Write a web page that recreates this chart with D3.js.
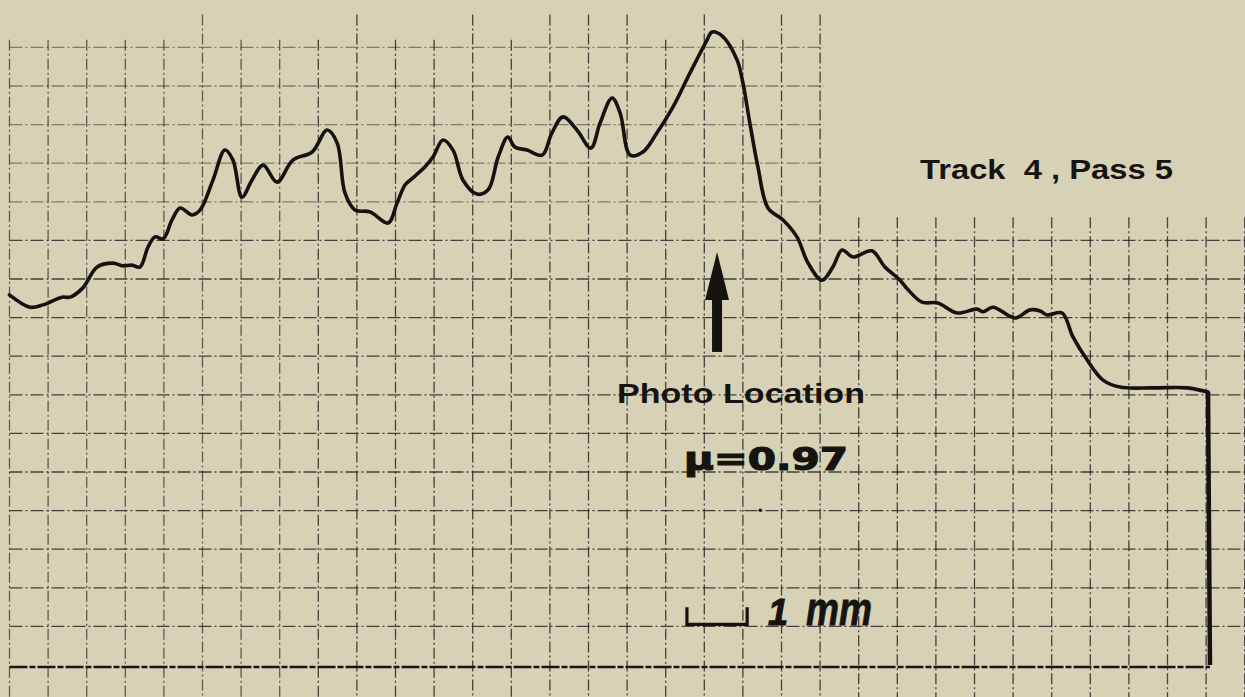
<!DOCTYPE html>
<html><head><meta charset="utf-8">
<script src="https://cdn.jsdelivr.net/npm/d3@7"></script>
<style>
html,body{margin:0;padding:0;background:#d7d2b6;}
svg{display:block;}
text{font-family:"Liberation Sans","Arial",sans-serif;font-weight:bold;fill:#161410;}
</style></head>
<body>
<svg id="chart" width="1245" height="697"></svg>
<script>
// Profile trace, in chart-grid units (x: divisions along track, y: divisions above baseline)
const traceX = [0.00,0.53,0.87,1.36,1.57,1.90,2.27,2.68,2.94,3.17,3.38,3.59,3.77,3.98,4.21,4.42,4.73,4.94,5.27,5.58,5.79,6.02,6.28,6.57,6.93,7.34,7.84,8.23,8.49,8.69,8.95,9.34,9.81,10.04,10.25,10.38,10.76,10.97,11.23,11.49,11.75,12.11,12.40,12.66,12.91,13.09,13.41,13.80,14.05,14.34,14.70,15.06,15.30,15.61,15.82,16.08,16.41,16.77,17.19,17.63,18.07,18.20,18.46,18.85,19.00,19.18,19.39,19.65,20.04,20.40,20.69,21.05,21.33,21.57,21.85,22.34,22.68,23.07,23.28,23.64,24.05,24.55,25.06,25.22,25.48,26.05,26.44,26.70,26.88,27.27,27.55,27.92,28.33,28.77,29.63,30.51,31.05];
const traceY = [9.59,9.27,9.33,9.53,9.53,9.77,10.31,10.41,10.34,10.36,10.31,10.83,11.09,11.04,11.53,11.84,11.66,11.79,12.56,13.34,13.08,12.12,12.56,12.95,12.51,13.08,13.29,13.86,13.52,12.23,11.79,11.74,11.45,11.97,12.44,12.56,12.90,13.16,13.60,13.34,12.56,12.20,12.31,13.16,13.68,13.42,13.34,13.21,13.78,14.20,13.86,13.39,14.04,14.69,14.30,13.21,13.29,13.78,14.46,15.34,16.19,16.40,16.30,15.67,15.08,14.04,12.90,11.84,11.53,11.09,10.41,9.97,10.31,10.75,10.57,10.73,10.31,9.97,9.72,9.40,9.38,9.12,9.22,9.15,9.27,8.99,9.20,9.17,9.07,9.12,8.50,7.90,7.38,7.20,7.18,7.18,7.07];
const dropX = [31.05, 31.10];   // pen drop to baseline
const dropY = [7.07, 0.00];
const gridCols = d3.range(0, 33);
const gridRows = d3.range(1, 17);
const tallCols = [5, 9, 12, 14, 15, 16, 18, 20, 21];
const titleText = "Track  4 , Pass 5";
const photoText = "Photo Location";
const muText = "\u03BC=0.97";
const scaleNum = "1";
const scaleUnit = "mm";
const arrowX = 18.33, arrowTip = 10.70, arrowBase = 8.11;
const barFrom = 17.55, barTo = 19.11, barY = 1.08;

const svg = d3.select("#chart");
const x = d3.scaleLinear().domain([0, 32]).range([9.5, 9.5 + 32 * 38.6]);
const y = d3.scaleLinear().domain([0, 17]).range([665, 665 - 17 * 38.6]);

const g = svg.append("g");
// grid: vertical lines
g.selectAll("line.v").data(gridCols).join("line")
  .attr("x1", d => x(d)).attr("x2", d => x(d))
  .attr("y1", d => d >= 22 ? y(11.6) : (tallCols.includes(d) ? y(16.85) : y(16.2)))
  .attr("y2", y(-1))
  .attr("stroke", "#2b2925").attr("stroke-width", 1.3)
  .attr("stroke-dasharray", "11,3,2,3")
  .attr("opacity", d => d < 8 ? 0.7 : 0.85);
// grid: horizontal lines
g.selectAll("line.h").data(gridRows).join("line")
  .attr("x1", x(0)).attr("x2", d => d >= 12 ? x(21.1) : x(32.3))
  .attr("y1", d => y(d)).attr("y2", d => y(d))
  .attr("stroke", "#2b2925").attr("stroke-width", 1.3)
  .attr("stroke-dasharray", "13,3,2,3")
  .attr("opacity", d => d >= 12 ? 0.5 : 0.85);

// baseline (thick)
g.append("line")
  .attr("x1", x(0)).attr("x2", x(31.1))
  .attr("y1", y(-0.05)).attr("y2", y(-0.05))
  .attr("stroke", "#1a1815").attr("stroke-width", 2.6)
  .attr("stroke-dasharray", "18,2,6,2");

// trace
const pts = traceX.map((v, i) => [v, traceY[i]]);
const line = d3.line().x(d => x(d[0])).y(d => y(d[1])).curve(d3.curveCatmullRom.alpha(0.5));
g.append("path").attr("d", line(pts))
  .attr("fill", "none").attr("stroke", "#15130f").attr("stroke-width", 3.6)
  .attr("stroke-linejoin", "round").attr("stroke-linecap", "round");
const dropPts = dropX.map((v, i) => [v, dropY[i]]);
g.append("path").attr("d", d3.line().x(d => x(d[0])).y(d => y(d[1]))(dropPts))
  .attr("fill", "none").attr("stroke", "#15130f").attr("stroke-width", 4.5);

// arrow
const ax = x(arrowX);
g.append("rect").attr("x", ax - 5).attr("width", 10)
  .attr("y", y(arrowTip) + 46).attr("height", y(arrowBase) - y(arrowTip) - 46)
  .attr("fill", "#15130f");
g.append("path")
  .attr("d", `M${ax},${y(arrowTip)} L${ax + 12},${y(arrowTip) + 48} L${ax - 12},${y(arrowTip) + 48} Z`)
  .attr("fill", "#15130f");

// texts
svg.append("text").attr("x", 920).attr("y", 179).attr("font-size", 27)
  .attr("textLength", 253).attr("lengthAdjust", "spacingAndGlyphs")
  .style("white-space", "pre").text(titleText);
svg.append("text").attr("x", 617).attr("y", 403).attr("font-size", 27)
  .attr("textLength", 248).attr("lengthAdjust", "spacingAndGlyphs").text(photoText);
svg.append("text").attr("x", 684).attr("y", 470).attr("font-size", 32)
  .style("font-family", "'DejaVu Sans', sans-serif")
  .attr("stroke", "#161410").attr("stroke-width", 1.2)
  .attr("textLength", 164).attr("lengthAdjust", "spacingAndGlyphs").text(muText);

// scale bar
const bx1 = x(barFrom), bx2 = x(barTo), by = y(barY);
g.append("path").attr("d", `M${bx1},${by - 16} L${bx1},${by + 1} L${bx2},${by + 1} L${bx2},${by - 16}`)
  .attr("fill", "none").attr("stroke", "#15130f").attr("stroke-width", 3.2);
svg.append("text").attr("x", 768).attr("y", 625).attr("font-size", 36)
  .attr("stroke", "#161410").attr("stroke-width", 1)
  .style("font-style", "italic").text(scaleNum);
svg.append("text").attr("x", 806).attr("y", 625).attr("font-size", 46)
  .attr("stroke", "#161410").attr("stroke-width", 0.8)
  .style("font-style", "italic")
  .attr("textLength", 66).attr("lengthAdjust", "spacingAndGlyphs").text(scaleUnit);
// small dot
g.append("circle").attr("cx", x(19.45)).attr("cy", y(4.01)).attr("r", 1.8).attr("fill", "#15130f");
</script>
</body></html>
